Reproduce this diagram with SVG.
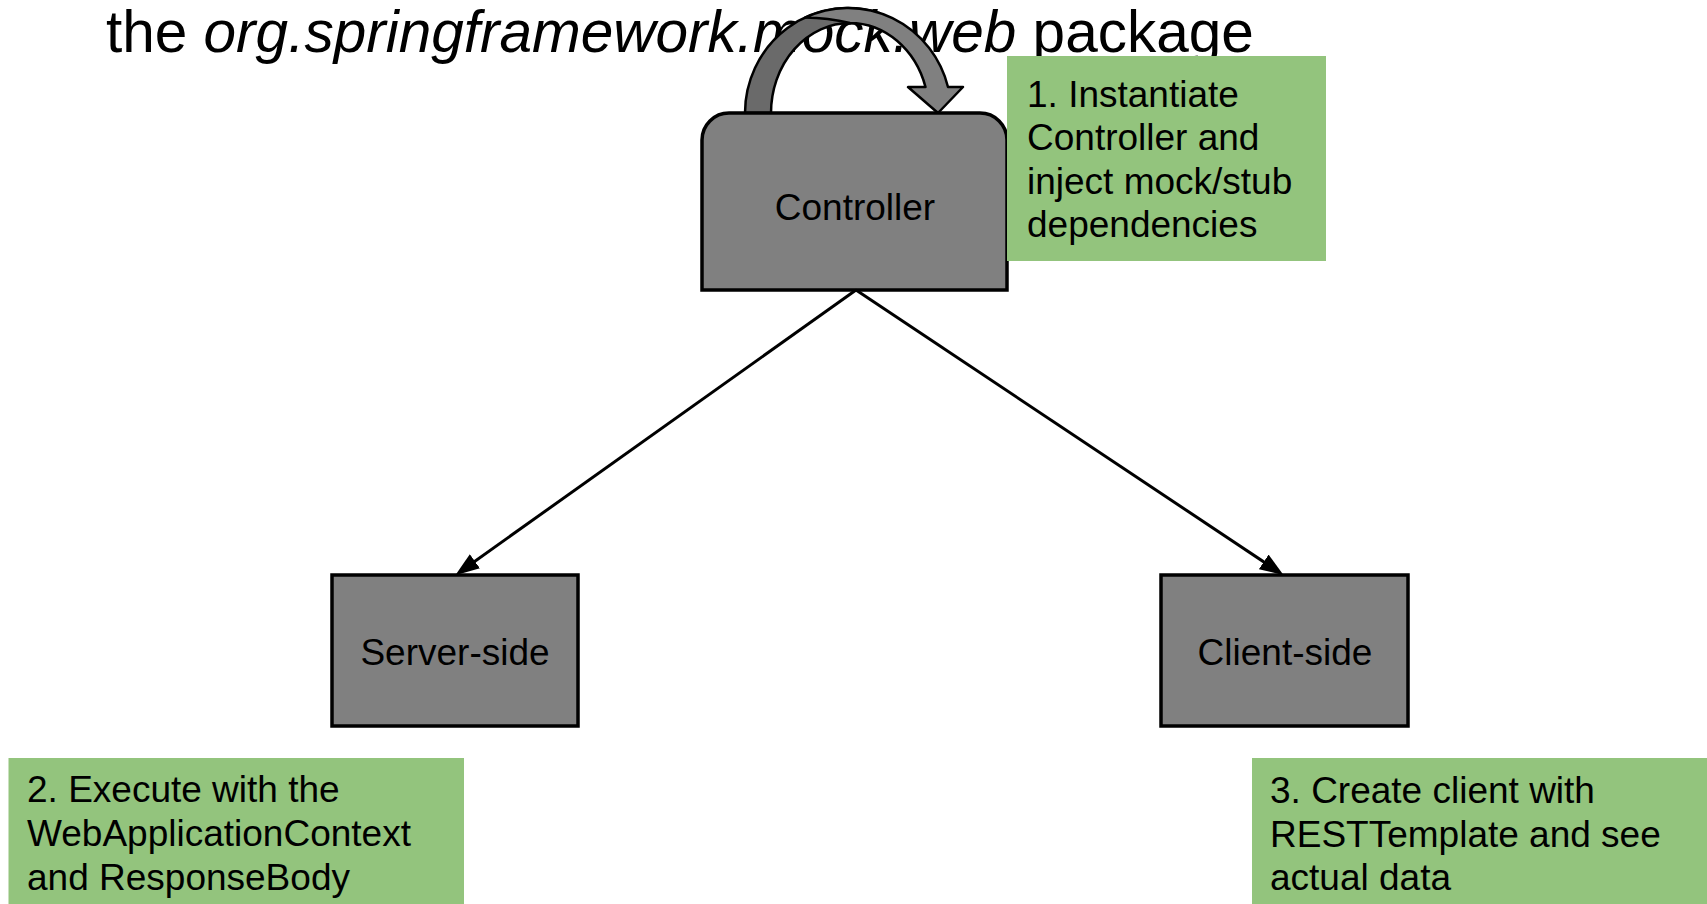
<svg xmlns="http://www.w3.org/2000/svg" width="1707" height="904" viewBox="0 0 1707 904">
<style>
  text { font-family: "Liberation Sans", Arial, sans-serif; fill: #000; }
  .title { font-size: 58.5px; }
  .lbl { font-size: 37px; text-anchor: middle; }
  .note { font-size: 37px; }
  .node { fill: #808080; stroke: #000; stroke-width: 3.5; }
  .green { fill: #93c47d; stroke: none; }
  .conn { stroke: #000; stroke-width: 3; fill: none; marker-end: url(#arr); }
</style>
<defs>
  <marker id="arr" markerUnits="userSpaceOnUse" markerWidth="24" markerHeight="18" refX="11" refY="8" orient="auto" viewBox="0 0 22 16">
    <path d="M0,0 L22,8 L0,16 Z" fill="#000"/>
  </marker>
</defs>
<rect width="1707" height="904" fill="#fff"/>
<g id="title">
  <text class="title" x="106" y="52">the <tspan font-style="italic">org.springframework.mock.web</tspan> package</text>
</g>
<g id="loop-arrow" stroke="#000" stroke-width="2.5" stroke-linejoin="round">
  <path d="M745,113 A103,105 0 0 1 880,13.2 L850,23 A79,90 0 0 0 771,113 Z" fill="#6a6a6a"/>
  <path d="M805,17.6 A103,105 0 0 1 948,87 L963,87 L938,113 L908,87 L925.5,87 A79,90 0 0 0 850,23 Q828,18 805,17.6 Z" fill="#808080"/>
</g>
<g id="controller">
  <path class="node" d="M702,290 L702,140 A27,27 0 0 1 729,113 L980,113 A27,27 0 0 1 1007,140 L1007,290 Z"/>
  <text class="lbl" x="855" y="220">Controller</text>
</g>
<g id="note1">
  <rect class="green" x="1007" y="56" width="319" height="205"/>
  <text class="note" x="1027" y="107">1. Instantiate</text>
  <text class="note" x="1027" y="150">Controller and</text>
  <text class="note" x="1027" y="194">inject mock/stub</text>
  <text class="note" x="1027" y="237">dependencies</text>
</g>
<g id="server-side">
  <rect class="node" x="332" y="575" width="246" height="151"/>
  <text class="lbl" x="455" y="665">Server-side</text>
</g>
<g id="client-side">
  <rect class="node" x="1161" y="575" width="247" height="151"/>
  <text class="lbl" x="1285" y="665">Client-side</text>
</g>
<g id="connectors">
  <line class="conn" x1="856" y1="290" x2="465.1" y2="568.2"/>
  <line class="conn" x1="856" y1="290" x2="1273.7" y2="568.5"/>
</g>
<g id="note2">
  <rect class="green" x="8.5" y="758" width="455.5" height="146"/>
  <text class="note" x="27" y="802">2. Execute with the</text>
  <text class="note" x="27" y="846">WebApplicationContext</text>
  <text class="note" x="27" y="890">and ResponseBody</text>
</g>
<g id="note3">
  <rect class="green" x="1252" y="758" width="455" height="146"/>
  <text class="note" x="1270" y="803">3. Create client with</text>
  <text class="note" x="1270" y="847">RESTTemplate and see</text>
  <text class="note" x="1270" y="890">actual data</text>
</g>
</svg>
